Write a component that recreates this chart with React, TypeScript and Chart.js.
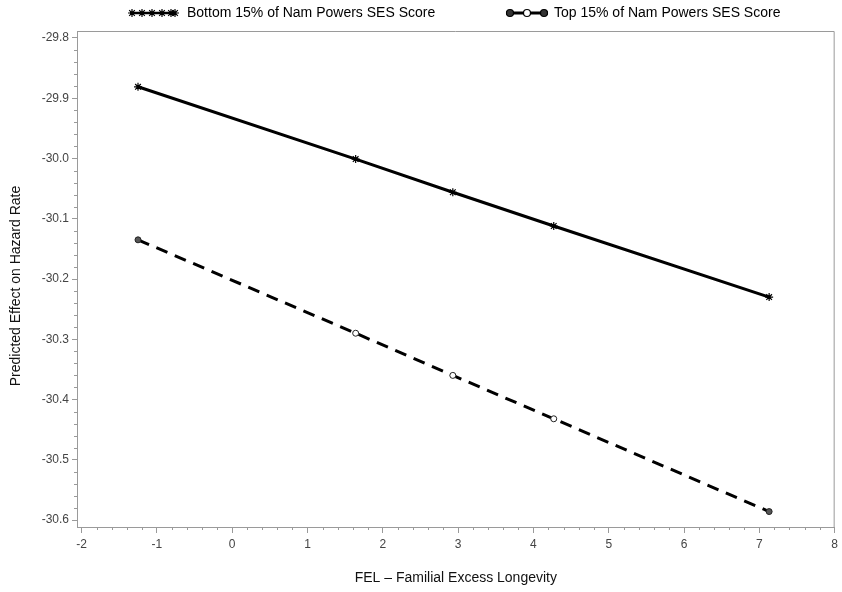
import React, { useEffect, useRef } from 'react';
import { Chart, registerables } from 'chart.js';

Chart.register(...registerables);

const felValues = [-1.25, 1.64, 2.93, 4.27, 7.13];
const bottomSES = [-29.881, -30.001, -30.056, -30.112, -30.230];
const topSES = [-30.135, -30.290, -30.360, -30.432, -30.586];
const seriesLabels = ['Bottom 15% of Nam Powers SES Score', 'Top 15% of Nam Powers SES Score'];
const xTickValues = [-2, -1, 0, 1, 2, 3, 4, 5, 6, 7, 8];
const yTickValues = [-29.8, -29.9, -30.0, -30.1, -30.2, -30.3, -30.4, -30.5, -30.6];
const xTitle = 'FEL \u2013 Familial Excess Longevity';
const yTitle = 'Predicted Effect on Hazard Rate';

const AXIS_COLOR = '#9a9a9a';
const TICK_FONT = 'Liberation Sans Narrow, Arial Narrow, Liberation Sans, Arial, sans-serif';
const MAIN_FONT = 'Liberation Sans, Arial, Helvetica, sans-serif';

function drawStar(ctx: CanvasRenderingContext2D, x: number, y: number, r: number) {
  ctx.beginPath();
  for (let i = 0; i < 4; i++) {
    const a = (Math.PI / 4) * i;
    ctx.moveTo(x - Math.cos(a) * r, y - Math.sin(a) * r);
    ctx.lineTo(x + Math.cos(a) * r, y + Math.sin(a) * r);
  }
  ctx.stroke();
}

const framePlugin = {
  id: 'frameAndMinor',
  beforeDatasetsDraw(chart: any) {
    const { ctx, chartArea } = chart;
    const xs = chart.scales.x;
    const ys = chart.scales.y;
    ctx.save();
    ctx.strokeStyle = AXIS_COLOR;
    ctx.lineWidth = 1;
    ctx.beginPath();
    ctx.moveTo(chartArea.left, chartArea.top + 0.5);
    ctx.lineTo(chartArea.right - 0.5, chartArea.top + 0.5);
    ctx.lineTo(chartArea.right - 0.5, chartArea.bottom);
    ctx.stroke();
    ctx.beginPath();
    for (let i = 0; i <= 50; i++) {
      if (i % 5 === 0) continue;
      const v = -2 + i * 0.2;
      const px = Math.round(xs.getPixelForValue(v)) + 0.5;
      ctx.moveTo(px, chartArea.bottom);
      ctx.lineTo(px, chartArea.bottom + 3);
    }
    for (let i = 0; i <= 40; i++) {
      if (i % 5 === 0) continue;
      const v = -30.6 + i * 0.02;
      const py = Math.round(ys.getPixelForValue(v)) + 0.5;
      ctx.moveTo(chartArea.left, py);
      ctx.lineTo(chartArea.left - 3, py);
    }
    ctx.stroke();
    ctx.restore();
  },
  afterDraw(chart: any) {
    const { ctx } = chart;
    ctx.save();
    // y axis title
    ctx.fillStyle = '#111';
    ctx.font = `14px ${MAIN_FONT}`;
    ctx.textAlign = 'center';
    ctx.textBaseline = 'middle';
    ctx.translate(16, 286);
    ctx.rotate(-Math.PI / 2);
    ctx.fillText(yTitle, 0, 0);
    ctx.restore();

    ctx.save();
    const y = 13;
    ctx.strokeStyle = '#000';
    ctx.lineWidth = 2.5;
    ctx.beginPath();
    ctx.moveTo(130, y);
    ctx.lineTo(176, y);
    ctx.stroke();
    ctx.lineWidth = 1.2;
    [132, 142, 152, 162, 171, 175].forEach((px) => drawStar(ctx, px, y, 4));
    ctx.fillStyle = '#000';
    ctx.font = `14px ${MAIN_FONT}`;
    ctx.textBaseline = 'middle';
    ctx.textAlign = 'left';
    ctx.fillText(seriesLabels[0], 187, y);
    ctx.lineWidth = 3;
    ctx.beginPath();
    ctx.moveTo(506, y);
    ctx.lineTo(548, y);
    ctx.stroke();
    ctx.lineWidth = 1.2;
    [[510, '#333'], [527, '#fff'], [544, '#333']].forEach(([px, fill]: any) => {
      ctx.beginPath();
      ctx.arc(px, y, 3.5, 0, Math.PI * 2);
      ctx.fillStyle = fill;
      ctx.fill();
      ctx.strokeStyle = '#000';
      ctx.stroke();
    });
    ctx.fillStyle = '#000';
    ctx.fillText(seriesLabels[1], 554, y);
    ctx.restore();
  },
};

export default function App() {
  const canvasRef = useRef<HTMLCanvasElement | null>(null);

  useEffect(() => {
    if (!canvasRef.current) return;
    const chart = new Chart(canvasRef.current, {
      type: 'line',
      data: {
        datasets: [
          {
            label: seriesLabels[0],
            data: felValues.map((x, i) => ({ x, y: bottomSES[i] })),
            borderColor: '#000',
            borderWidth: 3,
            pointStyle: 'star',
            pointRadius: 4,
            pointBorderWidth: 1.2,
            pointBorderColor: '#000',
            pointBackgroundColor: '#000',
            tension: 0,
          },
          {
            label: seriesLabels[1],
            data: felValues.map((x, i) => ({ x, y: topSES[i] })),
            borderColor: '#000',
            borderWidth: 3,
            borderDash: [12, 8],
            pointStyle: 'circle',
            pointRadius: 3,
            pointBorderWidth: 1,
            pointBorderColor: '#222',
            pointBackgroundColor: ['#555', '#fff', '#fff', '#fff', '#555'],
            tension: 0,
          },
        ],
      },
      options: {
        animation: false,
        responsive: false,
        layout: { padding: { top: 31, right: 4, left: 0, bottom: 0 } },
        plugins: {
          legend: { display: false },
          tooltip: { enabled: false },
        },
        scales: {
          x: {
            type: 'linear',
            min: -2.06,
            max: 8,
            afterBuildTicks: (scale: any) => {
              scale.ticks = xTickValues.map((v) => ({ value: v }));
            },
            afterFit: (scale: any) => {
              scale.height = 65;
            },
            grid: {
              drawOnChartArea: false,
              drawTicks: true,
              tickLength: 6,
              color: AXIS_COLOR,
            },
            border: { display: true, color: AXIS_COLOR, width: 1 },
            ticks: {
              color: '#444',
              font: { family: TICK_FONT, size: 12 },
              padding: 4,
              maxRotation: 0,
              autoSkip: false,
              callback: (v: any) => String(v),
            },
            title: {
              display: true,
              text: xTitle,
              color: '#111',
              font: { family: MAIN_FONT, size: 14 },
              padding: { top: 4, bottom: 5 },
            },
          },
          y: {
            type: 'linear',
            min: -30.6116,
            max: -29.7884,
            afterBuildTicks: (scale: any) => {
              scale.ticks = yTickValues.map((v) => ({ value: v }));
            },
            afterFit: (scale: any) => {
              scale.width = 77;
            },
            grid: {
              drawOnChartArea: false,
              drawTicks: true,
              tickLength: 5,
              color: AXIS_COLOR,
            },
            border: { display: true, color: AXIS_COLOR, width: 1 },
            ticks: {
              color: '#444',
              font: { family: TICK_FONT, size: 12 },
              padding: 3,
              autoSkip: false,
              callback: (v: any) => Number(v).toFixed(1),
            },
            title: { display: false, text: yTitle },
          },
        },
      },
      plugins: [framePlugin],
    });
    return () => chart.destroy();
  }, []);

  return (
    <div style={{ position: 'fixed', left: 0, top: 0, width: 842, height: 592, background: '#fff' }}>
      <canvas ref={canvasRef} width={842} height={592} />
    </div>
  );
}
